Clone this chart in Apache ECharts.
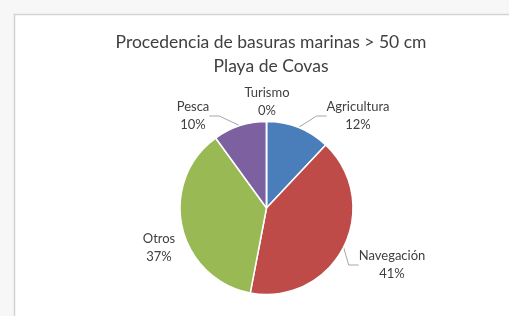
<!DOCTYPE html>
<html>
<head>
<meta charset="utf-8">
<script src="https://cdn.jsdelivr.net/npm/echarts@6/dist/echarts.min.js"></script>
<style>html,body{margin:0;padding:0;background:#fff}#c{width:509px;height:316px}</style>
</head>
<body>
<div id="c"></div>
<script>
var categories = ['Agricultura', 'Navegación', 'Otros', 'Pesca', 'Turismo'];
var values = [12, 41, 37, 10, 0];
var colors = ['#4A7EBB', '#BE4B48', '#98B954', '#7D60A0', '#4BACC6'];
var titleLines = ['Procedencia de basuras marinas > 50 cm', 'Playa de Covas'];

var labelPos = [[358, 116], [392, 265], [159, 248], [193, 116], [267, 102]];

var chart = echarts.init(document.getElementById('c'), null, {renderer: 'canvas'});
var font = 'Lato, "Open Sans", sans-serif';
chart.setOption({
  backgroundColor: '#ffffff',
  animation: false,
  graphic: [
    {type: 'rect', shape: {x: 0, y: 0, width: 509, height: 14}, style: {fill: '#f7f7f7'}, silent: true},
    {type: 'rect', shape: {x: 0, y: 0, width: 14, height: 316}, style: {fill: '#f7f7f7'}, silent: true},
    {type: 'polyline', shape: {points: [[14.5, 316], [14.5, 14.5], [509, 14.5]]}, style: {stroke: '#d4d4d4', lineWidth: 1.5, fill: null}, silent: true}
  ],
  title: {
    text: titleLines.join('\n'),
    left: 266, top: 25, textAlign: 'center',
    textStyle: {fontFamily: font, fontSize: 17.5, fontWeight: 'normal', color: '#404040', lineHeight: 24}
  },
  series: [{
    type: 'pie',
    center: [266.5, 208],
    radius: 86.5,
    startAngle: 90,
    clockwise: true,
    avoidLabelOverlap: false,
    itemStyle: {borderColor: '#ffffff', borderWidth: 1.5},
    label: {
      show: true, position: 'outside',
      formatter: function (p) { return p.name + '\n' + p.value + '%'; },
      fontFamily: font, fontSize: 13, color: '#404040', lineHeight: 18.5, align: 'center'
    },
    labelLine: {show: true, length: 10, length2: 10, lineStyle: {color: '#a6a6a6', width: 1}},
    labelLayout: function (p) {
      var pos = labelPos[p.dataIndex];
      return {x: pos[0], y: pos[1], align: 'center', verticalAlign: 'middle'};
    },
    data: categories.map(function (c, i) {
      return {name: c, value: values[i], itemStyle: {color: colors[i]},
        labelLine: {show: i !== 2 && i !== 4}};
    })
  }]
});
</script>
</body>
</html>
